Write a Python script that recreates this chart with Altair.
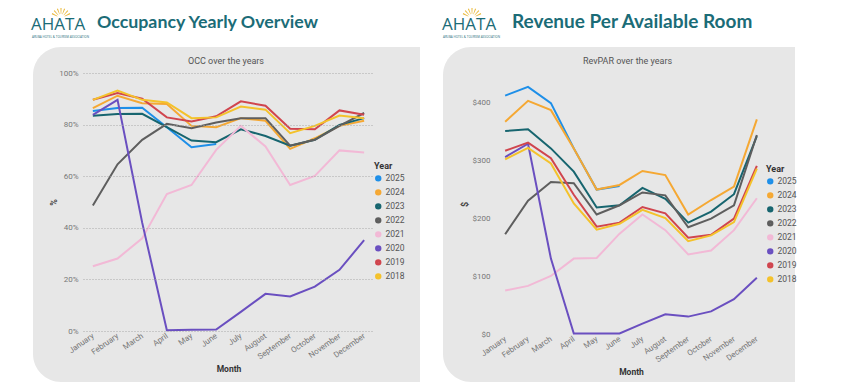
import altair as alt
import pandas as pd

MONTHS = ["January", "February", "March", "April", "May", "June", "July",
          "August", "September", "October", "November", "December"]
YEARS = ["2025", "2024", "2023", "2022", "2021", "2020", "2019", "2018"]
YEAR_COLORS = ["#1E8FE8", "#F5A833", "#17656F", "#5E5E5E",
               "#F2B9D6", "#6A4FC0", "#D0454E", "#F4C22B"]

# Occupancy (%)
OCC_2025 = [85.3, 86.4, 86.5, 79.0, 71.2, 72.5]
OCC_2024 = [86.4, 91.2, 88.3, 88.0, 79.5, 79.0, 82.5, 81.5, 70.6, 74.7, 79.5, 81.5]
OCC_2023 = [83.4, 84.1, 84.2, 79.0, 73.8, 73.2, 78.2, 75.6, 71.8, 74.1, 79.9, 82.5]
OCC_2022 = [48.6, 64.6, 74.1, 80.3, 78.6, 80.8, 82.5, 82.5, 71.8, 74.1, 79.5, 84.5]
OCC_2021 = [25.1, 28.1, 35.9, 53.1, 56.6, 70.2, 79.5, 71.5, 56.6, 60.1, 70.0, 69.2]
OCC_2020 = [83.8, 89.6, 42.0, 0.3, 0.5, 0.6, 7.4, 14.4, 13.4, 17.2, 23.7, 35.2]
OCC_2019 = [89.6, 92.2, 90.0, 82.8, 81.2, 83.2, 89.0, 87.3, 78.4, 78.2, 85.5, 83.8]
OCC_2018 = [89.6, 93.2, 89.6, 88.6, 82.5, 82.8, 87.0, 85.8, 76.7, 79.5, 83.5, 82.5]

# RevPAR ($)
REV_2025 = [411, 426, 398, 320, 249, 255]
REV_2024 = [366, 402, 386, 320, 249, 257, 281, 274, 206, 231, 254, 370]
REV_2023 = [350, 353, 320, 280, 218, 222, 252, 233, 192, 211, 241, 341]
REV_2022 = [172, 230, 262, 260, 206, 222, 244, 239, 184, 199, 222, 343]
REV_2021 = [75, 83, 100, 130, 131, 173, 206, 179, 137, 144, 179, 234]
REV_2020 = [305, 328, 130, 1, 1, 1, 18, 34, 30, 39, 60, 97]
REV_2019 = [316, 330, 303, 240, 185, 192, 219, 208, 166, 171, 199, 290]
REV_2018 = [301, 321, 294, 225, 180, 190, 214, 200, 160, 170, 193, 285]

OCC = dict(zip(YEARS, [OCC_2025, OCC_2024, OCC_2023, OCC_2022,
                       OCC_2021, OCC_2020, OCC_2019, OCC_2018]))
REV = dict(zip(YEARS, [REV_2025, REV_2024, REV_2023, REV_2022,
                       REV_2021, REV_2020, REV_2019, REV_2018]))

OCC_TICKS = [0, 0.2, 0.4, 0.6, 0.8, 1.0]
REV_TICKS = [0, 100, 200, 300, 400]
RAY_DEG = [-64, -43, -21, 0, 21, 43, 64]

TEAL = "#1B6C77"
PANEL = "#E7E7E7"
FONT = "Roboto"


def long_table(d, name, scale=1.0):
    rows = []
    for y in YEARS:
        for m, v in zip(MONTHS, d[y]):
            rows.append({"Year": y, "Month": m, name: v * scale})
    return pd.DataFrame(rows)


occ_df = long_table(OCC, "OCC", 0.01)
rev_df = long_table(REV, "RevPAR")

one = alt.Data(values=[{"k": 1}])
rays = pd.DataFrame({"t0": [(d - 3.2) * 3.14159 / 180 for d in RAY_DEG],
                     "t1": [(d + 3.2) * 3.14159 / 180 for d in RAY_DEG]})


def panel(df, field, w, h, domain, yaxis, header, header_size, sub, sub_x,
          backdrop, grey, logo_x, title_x, legend_x, legend_y):
    bx1, bx2, by1, by2 = backdrop
    gx1, gx2, gy1, gy2 = grey
    layers = []
    layers.append(alt.Chart(one).mark_rect(fill="white").encode(
        x=alt.value(bx1), x2=alt.value(bx2), y=alt.value(by1), y2=alt.value(by2)))
    layers.append(alt.Chart(one).mark_rect(
        fill=PANEL, cornerRadiusTopLeft=28, cornerRadiusBottomLeft=28).encode(
        x=alt.value(gx1), x2=alt.value(gx2), y=alt.value(gy1), y2=alt.value(gy2)))
    # logo
    layers.append(alt.Chart(rays).mark_arc(color="#E9B93A").encode(
        x=alt.value(logo_x + 30), y=alt.value(-55),
        theta=alt.Theta("t0:Q", scale=None), theta2="t1:Q",
        radius=alt.value(10), radius2=alt.value(4)))
    layers.append(alt.Chart(one).mark_text(
        text="AHATA", align="left", baseline="alphabetic", font="Open Sans",
        fontSize=17, color=TEAL).encode(x=alt.value(logo_x), y=alt.value(-43)))
    layers.append(alt.Chart(one).mark_text(
        text="ARUBA HOTEL & TOURISM ASSOCIATION", align="left", baseline="alphabetic",
        font="Open Sans", fontSize=3, color=TEAL).encode(
        x=alt.value(logo_x + 1), y=alt.value(-35.5)))
    layers.append(alt.Chart(one).mark_text(
        text=header, align="left", baseline="alphabetic", font="Lato",
        fontSize=header_size, fontWeight="bold", color=TEAL).encode(
        x=alt.value(title_x), y=alt.value(-45)))
    layers.append(alt.Chart(one).mark_text(
        text=sub, align="center", baseline="middle", font=FONT,
        fontSize=9, color="#555555").encode(x=alt.value(sub_x), y=alt.value(-12)))

    xaxis = alt.Axis(title="Month", labelAngle=325, labelAlign="right",
                     labelBaseline="middle", labelPadding=4, labelFontSize=8,
                     labelColor="#777777", labelFont=FONT, labelOverlap=False,
                     domain=False, ticks=False, grid=False, zindex=1,
                     titleFont=FONT, titleFontSize=8.5, titleFontWeight="bold",
                     titleColor="#333333", titleY=37, titleBaseline="middle")
    lines = alt.Chart(df).mark_line(strokeWidth=2).encode(
        x=alt.X("Month:N", sort=MONTHS,
                scale=alt.Scale(type="point", padding=0.4), axis=xaxis),
        y=alt.Y(f"{field}:Q", scale=alt.Scale(domain=domain, nice=False), axis=yaxis),
        color=alt.Color("Year:N", sort=YEARS,
                        scale=alt.Scale(domain=YEARS, range=YEAR_COLORS),
                        legend=alt.Legend(title="Year", orient="none",
                                          legendX=legend_x, legendY=legend_y,
                                          padding=0, symbolType="circle",
                                          symbolSize=9, symbolStrokeWidth=3.4,
                                          labelFont=FONT, labelFontSize=8.5,
                                          labelColor="#555555", labelOffset=3,
                                          titleFont=FONT, titleFontSize=9,
                                          titleFontWeight="bold", titleColor="#333333",
                                          titlePadding=0.5, rowPadding=0,
                                          clipHeight=13.7, zindex=1)),
    )
    layers.append(lines)
    return alt.layer(*layers).properties(width=w, height=h)


occ_axis = alt.Axis(title="%", values=OCC_TICKS, format=".0%", labelFont=FONT,
                    labelFontSize=8, labelColor="#777777", labelPadding=5,
                    domain=False, ticks=False, grid=True, gridDash=[1, 2],
                    gridColor="#a8a8a8", gridWidth=1, zindex=1,
                    titleX=-30, titleY=129, titleAngle=270, titleAlign="center",
                    titleBaseline="middle", titleFont=FONT, titleFontSize=9,
                    titleFontWeight="bold", titleColor="#444444")
rev_axis = alt.Axis(title="$", values=REV_TICKS, labelExpr="'$' + datum.value",
                    labelFont=FONT, labelFontSize=8, labelColor="#777777",
                    labelPadding=6, domain=False, ticks=False, grid=False, zindex=1,
                    titleX=-32, titleY=131, titleAngle=270, titleAlign="center",
                    titleBaseline="middle", titleFont=FONT, titleFontSize=9,
                    titleFontWeight="bold", titleColor="#444444")

left = panel(occ_df, "OCC", 291, 258, [0, 1], occ_axis,
             "Occupancy Yearly Overview", 17.8, "OCC over the years", 143,
             (-75, 348, -65, 309), (-50, 337, -26, 309), -52, 14, 291, 89)
right = panel(rev_df, "RevPAR", 270, 261, [0, 450], rev_axis,
              "Revenue Per Available Room", 19, "RevPAR over the years", 131.5,
              (-65, 304, -65, 309), (-53, 299, -26, 309), -54, 16, 270, 92)

chart = alt.hconcat(left, right, spacing=0).resolve_scale(
    color="independent").resolve_legend(color="independent").properties(
    padding=0, background="white").configure_view(stroke=None)

chart.save("out.html", embed_options={"renderer": "svg", "actions": False})
